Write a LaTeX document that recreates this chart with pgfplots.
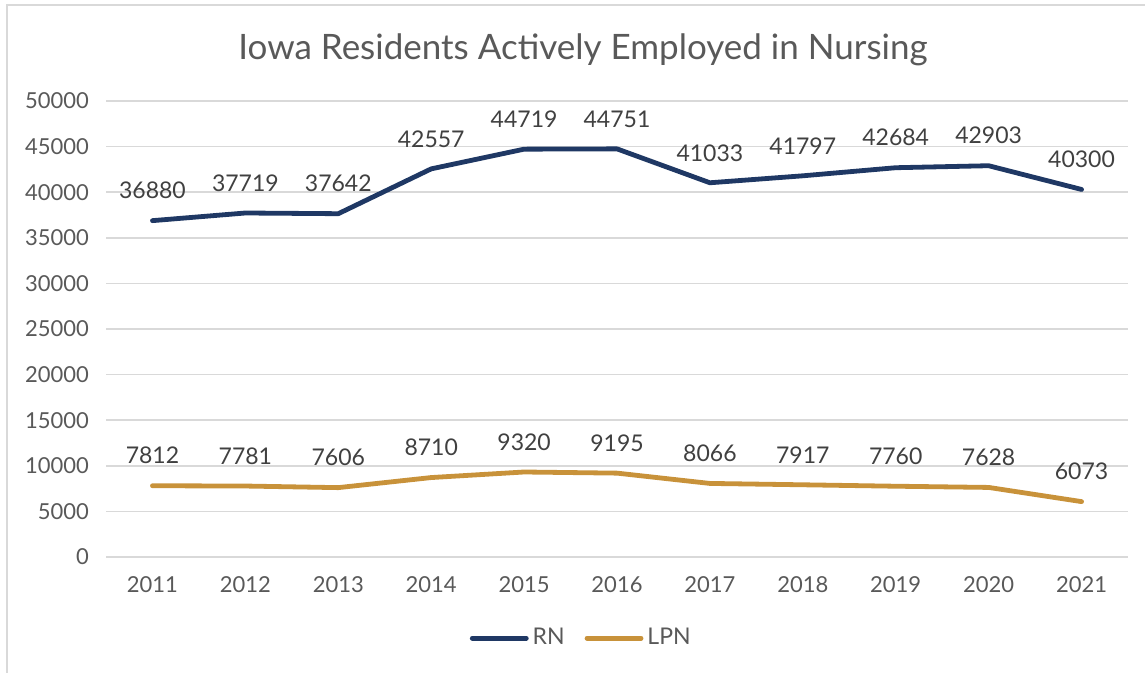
\documentclass[border=0pt]{standalone}
\usepackage{pgfplots}
\pgfplotsset{compat=1.18}
\usepackage{fontspec}
\setmainfont{Lato}
\definecolor{rn}{RGB}{31,56,100}
\definecolor{lpn}{RGB}{200,146,58}
\definecolor{gridc}{RGB}{217,217,217}
\definecolor{txt}{RGB}{89,89,89}
\definecolor{lbl}{RGB}{64,64,64}
\begin{document}
\begin{tikzpicture}
\useasboundingbox (0,0) rectangle (572.5pt,336.5pt);
\draw[gridc, line width=0.8pt] (3.5pt,-5pt) rectangle (580pt,334pt);
\node[txt, font=\fontsize{17.5}{21}\selectfont] at (291.5pt,311.5pt) {Iowa Residents Actively Employed in Nursing};
\begin{axis}[
  at={(53pt,58pt)}, anchor=south west,
  width=511pt, height=228pt, scale only axis,
  xmin=-0.5, xmax=10.5, ymin=0, ymax=50000,
  xtick={0,...,10},
  xticklabels={2011,2012,2013,2014,2015,2016,2017,2018,2019,2020,2021},
  ytick={0,5000,...,50000},
  scaled y ticks=false,
  /pgf/number format/1000 sep={},
  /pgf/number format/assume math mode=true,
  ymajorgrids, grid style={gridc, line width=0.8pt},
  axis line style={draw=none},
  major tick style={draw=none},
  tick label style={txt, font=\fontsize{11}{13}\selectfont},
  xticklabel style={yshift=-6pt},
  yticklabel style={xshift=-5pt},
  clip=false,
  nodes near coords,
  every node near coord/.append style={lbl, font=\fontsize{11.5}{13}\selectfont, anchor=center, yshift=15pt, /pgf/number format/1000 sep={}},
  legend columns=2,
  legend style={draw=none, fill=none, at={(0.466,-0.178)}, anchor=center, font=\fontsize{11.5}{13}\selectfont, text=txt, /tikz/every even column/.append style={column sep=8pt}, /tikz/every odd column/.append style={inner xsep=1pt}},
  legend image code/.code={\draw[#1, line cap=round] (0pt,0pt) -- (27pt,0pt);},
]
\addplot[rn, line width=2.4pt, line cap=round, line join=round, mark=none] coordinates {
(0,36880) (1,37719) (2,37642) (3,42557) (4,44719) (5,44751) (6,41033) (7,41797) (8,42684) (9,42903) (10,40300)};
\addlegendentry{RN}
\addplot[lpn, line width=2.4pt, line cap=round, line join=round, mark=none] coordinates {
(0,7812) (1,7781) (2,7606) (3,8710) (4,9320) (5,9195) (6,8066) (7,7917) (8,7760) (9,7628) (10,6073)};
\addlegendentry{LPN}
\end{axis}
\end{tikzpicture}
\end{document}
